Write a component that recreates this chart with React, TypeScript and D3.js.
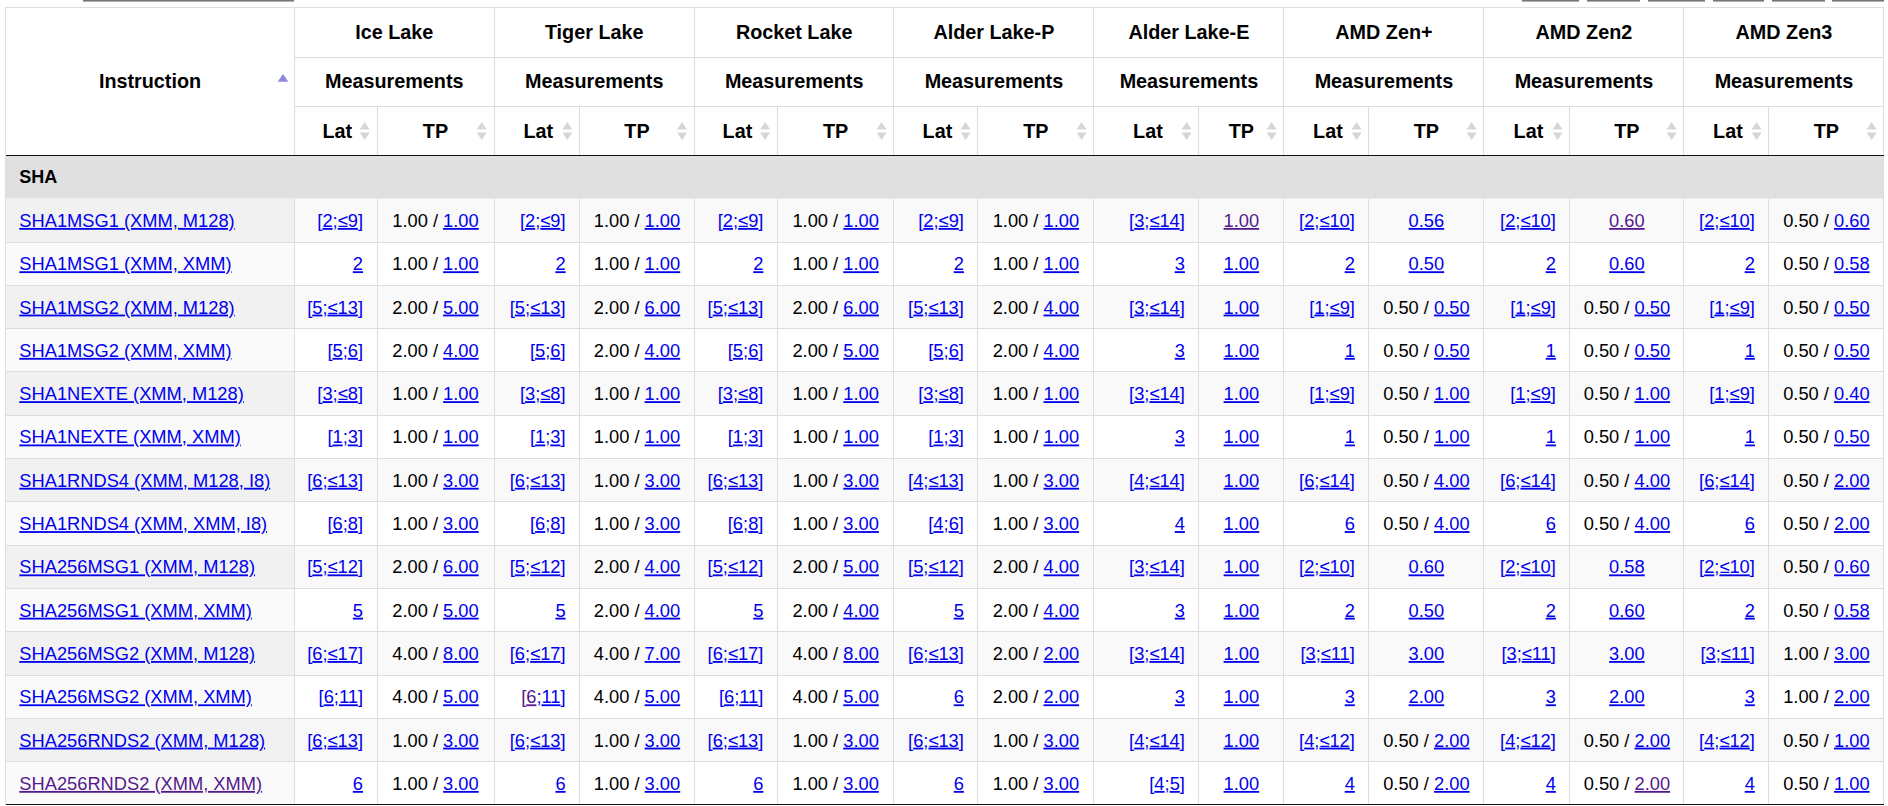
import React from 'react';
import * as d3 from 'd3';

// ---------------- DATA ----------------
const architectures = ['Ice Lake', 'Tiger Lake', 'Rocket Lake', 'Alder Lake-P', 'Alder Lake-E', 'AMD Zen+', 'AMD Zen2', 'AMD Zen3'];
const subHeader = 'Measurements';
const subColumns = ['Lat', 'TP'];
const firstColumn = 'Instruction';
const groupLabel = 'SHA';

const instructions = [
  'SHA1MSG1 (XMM, M128)',
  'SHA1MSG1 (XMM, XMM)',
  'SHA1MSG2 (XMM, M128)',
  'SHA1MSG2 (XMM, XMM)',
  'SHA1NEXTE (XMM, M128)',
  'SHA1NEXTE (XMM, XMM)',
  'SHA1RNDS4 (XMM, M128, I8)',
  'SHA1RNDS4 (XMM, XMM, I8)',
  'SHA256MSG1 (XMM, M128)',
  'SHA256MSG1 (XMM, XMM)',
  'SHA256MSG2 (XMM, M128)',
  'SHA256MSG2 (XMM, XMM)',
  'SHA256RNDS2 (XMM, M128)',
  'SHA256RNDS2 (XMM, XMM)',
];

// latencies[row][architecture]
const latencies = [
  ['[2;≤9]', '[2;≤9]', '[2;≤9]', '[2;≤9]', '[3;≤14]', '[2;≤10]', '[2;≤10]', '[2;≤10]'],
  ['2', '2', '2', '2', '3', '2', '2', '2'],
  ['[5;≤13]', '[5;≤13]', '[5;≤13]', '[5;≤13]', '[3;≤14]', '[1;≤9]', '[1;≤9]', '[1;≤9]'],
  ['[5;6]', '[5;6]', '[5;6]', '[5;6]', '3', '1', '1', '1'],
  ['[3;≤8]', '[3;≤8]', '[3;≤8]', '[3;≤8]', '[3;≤14]', '[1;≤9]', '[1;≤9]', '[1;≤9]'],
  ['[1;3]', '[1;3]', '[1;3]', '[1;3]', '3', '1', '1', '1'],
  ['[6;≤13]', '[6;≤13]', '[6;≤13]', '[4;≤13]', '[4;≤14]', '[6;≤14]', '[6;≤14]', '[6;≤14]'],
  ['[6;8]', '[6;8]', '[6;8]', '[4;6]', '4', '6', '6', '6'],
  ['[5;≤12]', '[5;≤12]', '[5;≤12]', '[5;≤12]', '[3;≤14]', '[2;≤10]', '[2;≤10]', '[2;≤10]'],
  ['5', '5', '5', '5', '3', '2', '2', '2'],
  ['[6;≤17]', '[6;≤17]', '[6;≤17]', '[6;≤13]', '[3;≤14]', '[3;≤11]', '[3;≤11]', '[3;≤11]'],
  ['[6;11]', '[6;11]', '[6;11]', '6', '3', '3', '3', '3'],
  ['[6;≤13]', '[6;≤13]', '[6;≤13]', '[6;≤13]', '[4;≤14]', '[4;≤12]', '[4;≤12]', '[4;≤12]'],
  ['6', '6', '6', '6', '[4;5]', '4', '4', '4'],
];

// throughputs[row][architecture]
const throughputs = [
  ['1.00 / 1.00', '1.00 / 1.00', '1.00 / 1.00', '1.00 / 1.00', '1.00', '0.56', '0.60', '0.50 / 0.60'],
  ['1.00 / 1.00', '1.00 / 1.00', '1.00 / 1.00', '1.00 / 1.00', '1.00', '0.50', '0.60', '0.50 / 0.58'],
  ['2.00 / 5.00', '2.00 / 6.00', '2.00 / 6.00', '2.00 / 4.00', '1.00', '0.50 / 0.50', '0.50 / 0.50', '0.50 / 0.50'],
  ['2.00 / 4.00', '2.00 / 4.00', '2.00 / 5.00', '2.00 / 4.00', '1.00', '0.50 / 0.50', '0.50 / 0.50', '0.50 / 0.50'],
  ['1.00 / 1.00', '1.00 / 1.00', '1.00 / 1.00', '1.00 / 1.00', '1.00', '0.50 / 1.00', '0.50 / 1.00', '0.50 / 0.40'],
  ['1.00 / 1.00', '1.00 / 1.00', '1.00 / 1.00', '1.00 / 1.00', '1.00', '0.50 / 1.00', '0.50 / 1.00', '0.50 / 0.50'],
  ['1.00 / 3.00', '1.00 / 3.00', '1.00 / 3.00', '1.00 / 3.00', '1.00', '0.50 / 4.00', '0.50 / 4.00', '0.50 / 2.00'],
  ['1.00 / 3.00', '1.00 / 3.00', '1.00 / 3.00', '1.00 / 3.00', '1.00', '0.50 / 4.00', '0.50 / 4.00', '0.50 / 2.00'],
  ['2.00 / 6.00', '2.00 / 4.00', '2.00 / 5.00', '2.00 / 4.00', '1.00', '0.60', '0.58', '0.50 / 0.60'],
  ['2.00 / 5.00', '2.00 / 4.00', '2.00 / 4.00', '2.00 / 4.00', '1.00', '0.50', '0.60', '0.50 / 0.58'],
  ['4.00 / 8.00', '4.00 / 7.00', '4.00 / 8.00', '2.00 / 2.00', '1.00', '3.00', '3.00', '1.00 / 3.00'],
  ['4.00 / 5.00', '4.00 / 5.00', '4.00 / 5.00', '2.00 / 2.00', '1.00', '2.00', '2.00', '1.00 / 2.00'],
  ['1.00 / 3.00', '1.00 / 3.00', '1.00 / 3.00', '1.00 / 3.00', '1.00', '0.50 / 2.00', '0.50 / 2.00', '0.50 / 1.00'],
  ['1.00 / 3.00', '1.00 / 3.00', '1.00 / 3.00', '1.00 / 3.00', '1.00', '0.50 / 2.00', '0.50 / 2.00', '0.50 / 1.00'],
];

// links shown in the "visited" colour: row-architecture-column
const visitedCells = ['0-4-tp', '0-6-tp', '11-1-lat', '13-6-tp'];
const visitedInstructions = ['SHA256RNDS2 (XMM, XMM)'];

// ---------------- LAYOUT ----------------
const W = 1888;
const H = 806;
const TABLE_LEFT = 5.5;
const INSTR_RIGHT = 294.5;
const subWidths = [
  [82.5, 117], [85.6, 114.8], [83, 116.5], [84, 116], [105, 85], [85, 115], [86, 114], [85, 115],
];
const HEADER_Y = [7.3, 57.3, 106.7, 155.3];
const DATA_TOP = 198.7;
const TABLE_BOTTOM = 805;

const FONT = '"Liberation Sans", Arial, Helvetica, sans-serif';
const HEAD_FS = 19.8;
const CELL_FS = 18.3;
const LINK = '#0000ee';
const VISITED = '#551a8b';
const BORDER = '#dddddd';
const DARK = '#111111';

function Link({ text, visited }: { text: string; visited?: boolean }) {
  return (
    <tspan fill={visited ? VISITED : LINK} style={{ textDecoration: 'underline' }}>
      {text}
    </tspan>
  );
}

function SortBoth({ cx, cy }: { cx: number; cy: number }) {
  return (
    <g fill="#d6d6d6">
      <path d={`M${cx - 5},${cy - 1.5}L${cx},${cy - 9}L${cx + 5},${cy - 1.5}Z`} />
      <path d={`M${cx - 5},${cy + 1.5}L${cx},${cy + 9}L${cx + 5},${cy + 1.5}Z`} />
    </g>
  );
}

export default function App() {
  const rowScale = d3.scaleBand<string>().domain(instructions).range([DATA_TOP, TABLE_BOTTOM]).padding(0);
  const archWidths = subWidths.map((w) => d3.sum(w));
  const archEdges = [INSTR_RIGHT, ...Array.from(d3.cumsum(archWidths), (v) => INSTR_RIGHT + v)];
  const TABLE_RIGHT = archEdges[archEdges.length - 1];

  const cols = architectures.map((name, i) => {
    const x0 = archEdges[i];
    const x1 = archEdges[i + 1];
    const mid = x0 + subWidths[i][0];
    return { name, x0, x1, mid };
  });

  const bw = rowScale.bandwidth();

  const topMarks = [
    [83, 294], [1522, 1579], [1587, 1640], [1648, 1705], [1713, 1764], [1772, 1825], [1832, 1884],
  ];

  return (
    <svg
      width={W}
      height={H}
      style={{ position: 'absolute', left: 0, top: 0, background: '#fff' }}
      fontFamily={FONT}
    >
      {/* remnants of page controls above the table */}
      {topMarks.map(([a, b], i) => (
        <rect key={`tm${i}`} x={a} y={0} width={b - a} height={1.6} fill="#777" />
      ))}

      {/* table background */}
      <rect x={TABLE_LEFT} y={HEADER_Y[0]} width={TABLE_RIGHT - TABLE_LEFT} height={TABLE_BOTTOM - HEADER_Y[0]} fill="#fff" />

      {/* group row */}
      <rect x={TABLE_LEFT} y={HEADER_Y[3]} width={TABLE_RIGHT - TABLE_LEFT} height={DATA_TOP - HEADER_Y[3]} fill="#e0e0e0" />

      {/* row stripes */}
      {instructions.map((ins, r) => {
        const y = rowScale(ins)!;
        const odd = r % 2 === 0;
        return (
          <g key={`bg${r}`}>
            <rect x={TABLE_LEFT} y={y} width={TABLE_RIGHT - TABLE_LEFT} height={bw} fill={odd ? '#f9f9f9' : '#ffffff'} />
            <rect x={TABLE_LEFT} y={y} width={INSTR_RIGHT - TABLE_LEFT} height={bw} fill={odd ? '#f1f1f1' : '#fafafa'} />
          </g>
        );
      })}

      {/* borders */}
      <g stroke={BORDER} strokeWidth={1} shapeRendering="crispEdges">
        <line x1={TABLE_LEFT} x2={TABLE_RIGHT} y1={HEADER_Y[0]} y2={HEADER_Y[0]} />
        <line x1={INSTR_RIGHT} x2={TABLE_RIGHT} y1={HEADER_Y[1]} y2={HEADER_Y[1]} />
        <line x1={INSTR_RIGHT} x2={TABLE_RIGHT} y1={HEADER_Y[2]} y2={HEADER_Y[2]} />
        <line x1={TABLE_LEFT} x2={TABLE_LEFT} y1={HEADER_Y[0]} y2={TABLE_BOTTOM} />
        <line x1={TABLE_RIGHT} x2={TABLE_RIGHT} y1={HEADER_Y[0]} y2={TABLE_BOTTOM} />
        <line x1={INSTR_RIGHT} x2={INSTR_RIGHT} y1={HEADER_Y[0]} y2={HEADER_Y[3]} />
        {cols.map((c, i) => (
          <g key={`vb${i}`}>
            {i > 0 && <line x1={c.x0} x2={c.x0} y1={HEADER_Y[0]} y2={HEADER_Y[3]} />}
            <line x1={c.mid} x2={c.mid} y1={HEADER_Y[2]} y2={HEADER_Y[3]} />
          </g>
        ))}
        {/* data verticals */}
        {[INSTR_RIGHT, ...cols.flatMap((c, i) => (i > 0 ? [c.x0, c.mid] : [c.mid]))].map((x, i) => (
          <line key={`dv${i}`} x1={x} x2={x} y1={DATA_TOP} y2={TABLE_BOTTOM} />
        ))}
        {instructions.slice(1).map((ins, i) => {
          const y = rowScale(ins)!;
          return <line key={`dh${i}`} x1={TABLE_LEFT} x2={TABLE_RIGHT} y1={y} y2={y} />;
        })}
      </g>
      <g stroke={DARK} strokeWidth={1} shapeRendering="crispEdges">
        <line x1={TABLE_LEFT} x2={TABLE_RIGHT} y1={HEADER_Y[3]} y2={HEADER_Y[3]} />
        <line x1={TABLE_LEFT} x2={TABLE_RIGHT} y1={TABLE_BOTTOM - 0.5} y2={TABLE_BOTTOM - 0.5} />
      </g>

      {/* header text */}
      <g fontWeight="bold" fontSize={HEAD_FS} fill="#000">
        <text x={(TABLE_LEFT + INSTR_RIGHT) / 2} y={88.3} textAnchor="middle">{firstColumn}</text>
        <path
          d={`M${INSTR_RIGHT - 16.8},81.7L${INSTR_RIGHT - 11.5},74L${INSTR_RIGHT - 6.2},81.7Z`}
          fill="#8a8ad8"
        />
        {cols.map((c, i) => (
          <g key={`h${i}`}>
            <text x={(c.x0 + c.x1) / 2} y={39.3} textAnchor="middle">{c.name}</text>
            <text x={(c.x0 + c.x1) / 2} y={88.3} textAnchor="middle">{subHeader}</text>
            <text x={(c.x0 + c.mid) / 2 + 1.5} y={137.5} textAnchor="middle">{subColumns[0]}</text>
            <text x={(c.mid + c.x1) / 2} y={137.5} textAnchor="middle">{subColumns[1]}</text>
            <SortBoth cx={c.mid - 12.3} cy={131} />
            <SortBoth cx={c.x1 - 12.3} cy={131} />
          </g>
        ))}
      </g>

      {/* group label */}
      <text x={19.3} y={183.4} fontWeight="bold" fontSize={18} fill="#000">{groupLabel}</text>

      {/* data cells */}
      <g fontSize={CELL_FS}>
        {instructions.map((ins, r) => {
          const y = rowScale(ins)! + bw / 2 + 6.6;
          return (
            <g key={`row${r}`}>
              <text x={19.3} y={y}>
                <Link text={ins} visited={visitedInstructions.includes(ins)} />
              </text>
              {cols.map((c, a) => {
                const lat = latencies[r][a];
                const tp = throughputs[r][a];
                const latVisited = visitedCells.includes(`${r}-${a}-lat`);
                const tpVisited = visitedCells.includes(`${r}-${a}-tp`);
                let latNode;
                if (lat.startsWith('[')) {
                  const [lo, hi] = lat.slice(1, -1).split(';');
                  latNode = (
                    <text x={c.mid - 14} y={y} textAnchor="end" fill={latVisited ? VISITED : LINK}>
                      <tspan>[</tspan>
                      <Link text={lo} visited={latVisited} />
                      <tspan fill={LINK}>;</tspan>
                      <Link text={hi} />
                      <tspan fill={LINK}>]</tspan>
                    </text>
                  );
                } else {
                  latNode = (
                    <text x={c.mid - 14} y={y} textAnchor="end">
                      <Link text={lat} visited={latVisited} />
                    </text>
                  );
                }
                const parts = tp.split(' / ');
                const tpNode =
                  parts.length === 2 ? (
                    <text x={(c.mid + c.x1) / 2} y={y} textAnchor="middle" fill="#000">
                      <tspan>{`${parts[0]} / `}</tspan>
                      <Link text={parts[1]} visited={tpVisited} />
                    </text>
                  ) : (
                    <text x={(c.mid + c.x1) / 2} y={y} textAnchor="middle">
                      <Link text={tp} visited={tpVisited} />
                    </text>
                  );
                return (
                  <g key={`c${r}-${a}`}>
                    {latNode}
                    {tpNode}
                  </g>
                );
              })}
            </g>
          );
        })}
      </g>
    </svg>
  );
}
